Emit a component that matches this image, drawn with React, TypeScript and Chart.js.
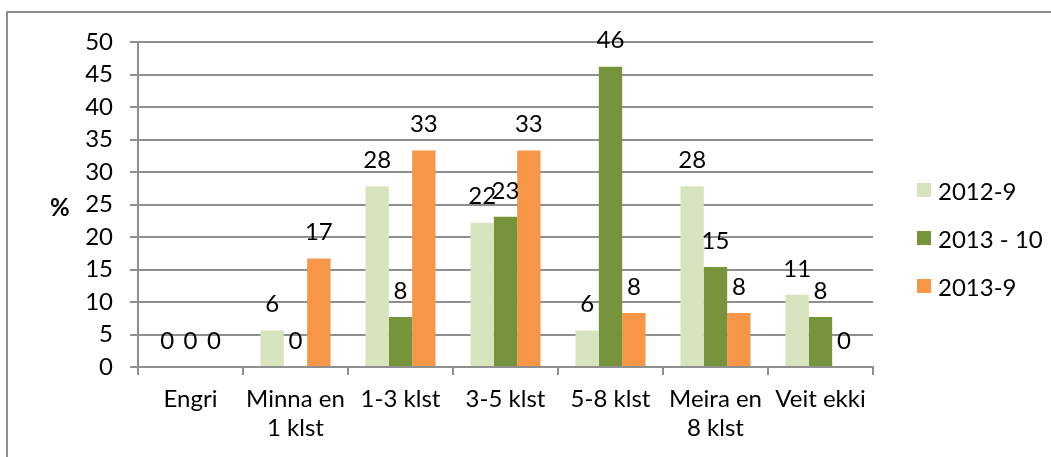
import React, { useEffect, useRef } from "react";
import { Chart, registerables } from "chart.js";

Chart.register(...registerables);

const categories: (string | string[])[] = [
  "Engri",
  ["Minna en", "1 klst"],
  "1-3 klst",
  "3-5 klst",
  "5-8 klst",
  ["Meira en", "8 klst"],
  "Veit ekki",
];
const seriesNames = ["2012-9", "2013 - 10", "2013-9"];
const series2012_9 = [0, 5.6, 27.8, 22.2, 5.6, 27.8, 11.1];
const series2013_10 = [0, 0, 7.7, 23.1, 46.2, 15.4, 7.7];
const series2013_9 = [0, 16.7, 33.3, 33.3, 8.3, 8.3, 0];
const colors = ["#D7E4BD", "#77933C", "#F79646"];
const yTicks = [0, 5, 10, 15, 20, 25, 30, 35, 40, 45, 50];

const FONT = "Lato, 'Open Sans', sans-serif";
const GRID = "#8f8f8f";
const FS = 24;

const labelPlugin = {
  id: "barLabels",
  afterDatasetsDraw(chart: any) {
    const ctx = chart.ctx;
    ctx.save();
    ctx.font = `${FS}px ${FONT}`;
    ctx.fillStyle = "#000";
    ctx.textAlign = "center";
    ctx.textBaseline = "middle";
    chart.data.datasets.forEach((ds: any, i: number) => {
      const meta = chart.getDatasetMeta(i);
      meta.data.forEach((bar: any, j: number) => {
        const v = ds.data[j];
        ctx.fillText(String(Math.round(v)), bar.x, bar.y - 26);
      });
    });
    ctx.restore();
  },
};

export default function App() {
  const ref = useRef<HTMLCanvasElement>(null);
  useEffect(() => {
    if (!ref.current) return;
    const chart = new Chart(ref.current, {
      type: "bar",
      data: {
        labels: categories,
        datasets: [series2012_9, series2013_10, series2013_9].map((d, i) => ({
          label: seriesNames[i],
          data: d,
          backgroundColor: colors[i],
          borderWidth: 0,
          categoryPercentage: 0.667,
          barPercentage: 1,
        })),
      },
      options: {
        animation: false,
        responsive: false,
        layout: { padding: { left: 0, right: 178, top: 42, bottom: 0 } },
        plugins: { legend: { display: false }, tooltip: { enabled: false } },
        scales: {
          x: {
            grid: {
              offset: true,
              drawOnChartArea: false,
              drawTicks: true,
              tickLength: 8,
              color: GRID,
              lineWidth: 2,
            },
            border: { display: true, color: GRID, width: 2 },
            ticks: {
              font: { family: FONT, size: FS, lineHeight: 1.2 },
              color: "#000",
              padding: 10,
              maxRotation: 0,
              autoSkip: false,
            },
            afterFit(scale: any) {
              scale.height = 90;
            },
          },
          y: {
            min: 0,
            max: 50,
            afterBuildTicks(scale: any) {
              scale.ticks = yTicks.map((v) => ({ value: v }));
            },
            grid: {
              drawOnChartArea: true,
              drawTicks: true,
              tickLength: 8,
              color: GRID,
              lineWidth: 2,
            },
            border: { display: true, color: GRID, width: 2 },
            ticks: {
              font: { family: FONT, size: FS },
              color: "#000",
              padding: 17,
            },
            afterFit(scale: any) {
              scale.width = 138;
            },
          },
        },
      },
      plugins: [labelPlugin],
    });
    return () => chart.destroy();
  }, []);

  return (
    <div
      style={{
        position: "fixed",
        left: 0,
        top: 0,
        width: 1051,
        height: 457,
        background: "#fff",
        overflow: "hidden",
        fontFamily: FONT,
      }}
    >
      <div
        style={{
          position: "absolute",
          left: 6,
          top: 11,
          width: 1100,
          height: 500,
          borderLeft: `2px solid ${GRID}`,
          borderTop: `2px solid ${GRID}`,
        }}
      />
      <canvas ref={ref} width={1051} height={457} style={{ position: "absolute", left: 0, top: 0 }} />
      <div
        style={{
          position: "absolute",
          left: 50,
          top: 193,
          fontSize: FS,
          fontWeight: "bold",
          lineHeight: "28px",
        }}
      >
        %
      </div>
      {seriesNames.map((n, i) => (
        <div
          key={n}
          style={{
            position: "absolute",
            left: 917,
            top: 190 + i * 48 - 14,
            height: 28,
            display: "flex",
            alignItems: "center",
            fontSize: FS,
            whiteSpace: "nowrap",
          }}
        >
          <span style={{ width: 14, height: 14, background: colors[i], display: "inline-block", marginRight: 7 }} />
          <span>{n}</span>
        </div>
      ))}
    </div>
  );
}
